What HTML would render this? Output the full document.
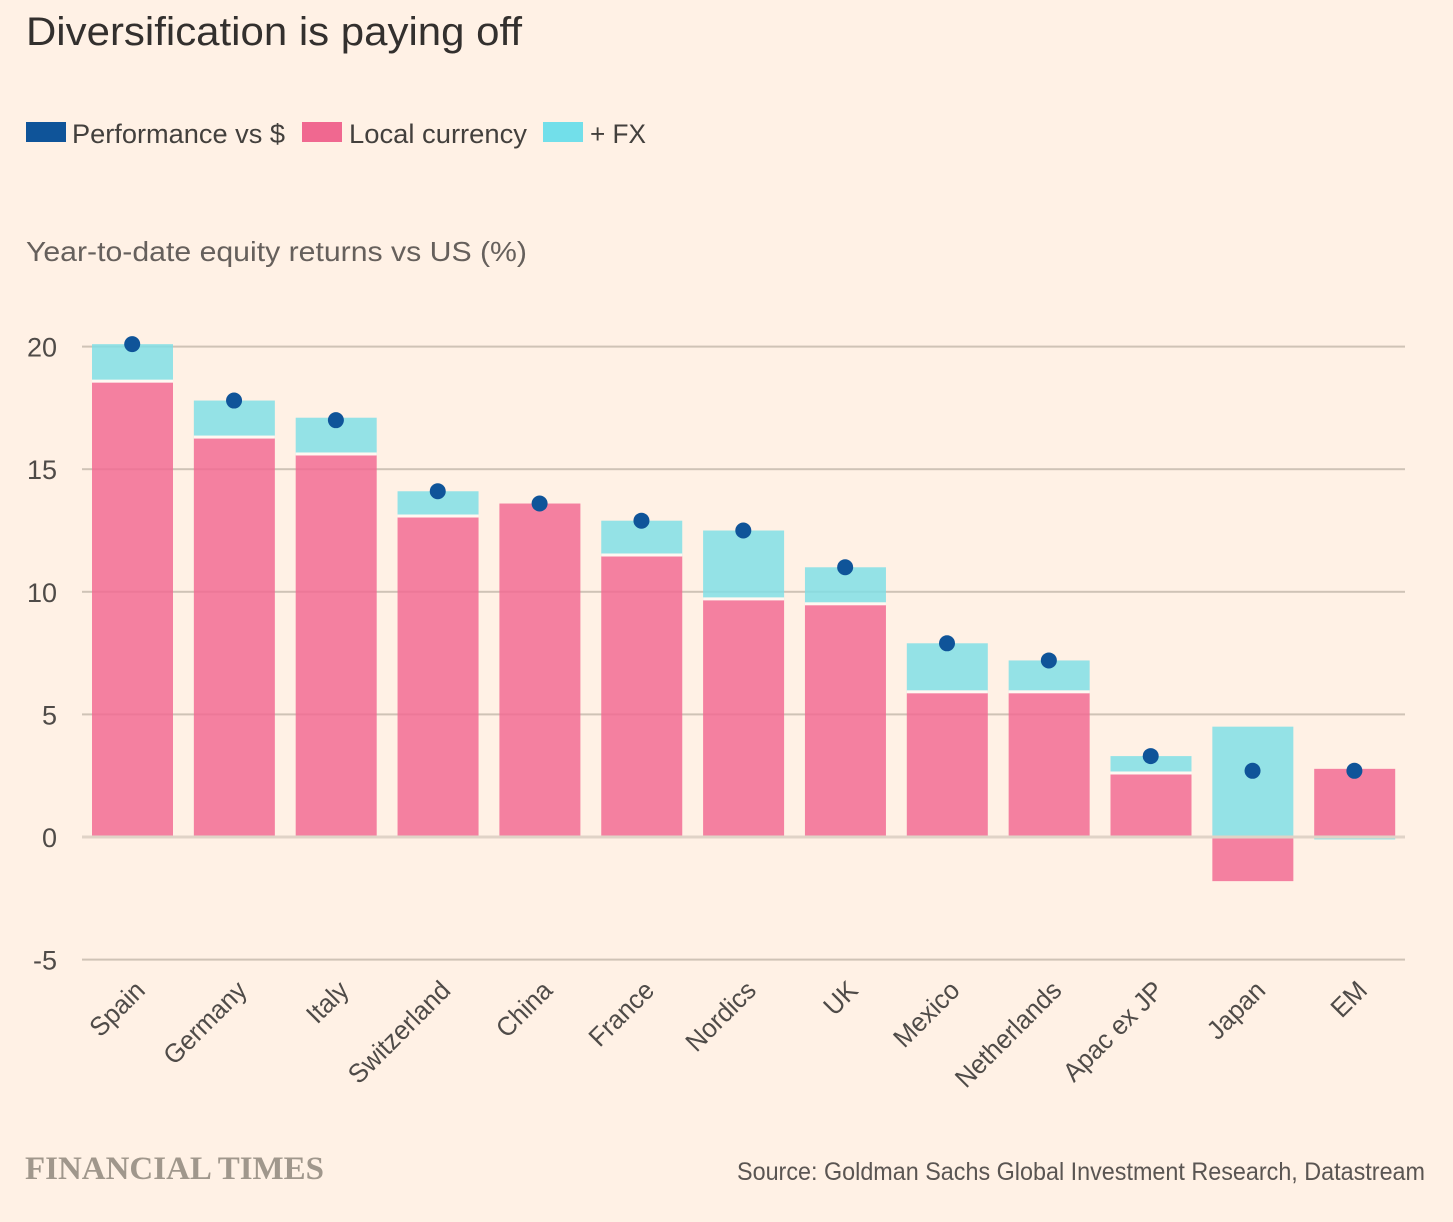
<!DOCTYPE html>
<html lang="en">
<head>
<meta charset="utf-8">
<title>Diversification is paying off</title>
<style>
html,body{margin:0;padding:0;background:#fff1e5;}
svg{display:block;font-family:"Liberation Sans",sans-serif;}
</style>
</head>
<body>
<svg id="chart" xmlns="http://www.w3.org/2000/svg" width="1453" height="1222" viewBox="0 0 1453 1222">
  <rect x="0" y="0" width="1453" height="1222" fill="#fff1e5"/>
  <text x="26" y="45" font-size="40" fill="#33302e" textLength="496" lengthAdjust="spacingAndGlyphs">Diversification is paying off</text>
  <g>
    <rect x="26" y="122" width="40" height="20" fill="#0f5499"/>
    <text x="72" y="143" font-size="27" fill="#43403d" textLength="213" lengthAdjust="spacingAndGlyphs">Performance vs $</text>
    <rect x="302" y="122" width="40" height="20" fill="#f06890"/>
    <text x="349" y="143" font-size="27" fill="#43403d" textLength="178" lengthAdjust="spacingAndGlyphs">Local currency</text>
    <rect x="543" y="122" width="40" height="20" fill="#72dfea"/>
    <text x="590" y="143" font-size="27" fill="#43403d" textLength="56" lengthAdjust="spacingAndGlyphs">+ FX</text>
  </g>
  <text x="26" y="261" font-size="28" fill="#66605c" textLength="501" lengthAdjust="spacingAndGlyphs">Year-to-date equity returns vs US (%)</text>
  <g id="grid"></g>
  <g id="ylabels"></g>
  <g id="bars"></g>
  <g id="dots"></g>
  <g id="xlabels"></g>
  <text x="25" y="1179" font-family="'Liberation Serif',serif" font-weight="700" font-size="33" fill="#a0978c" textLength="299" lengthAdjust="spacingAndGlyphs">FINANCIAL TIMES</text>
  <text x="1425" y="1180" text-anchor="end" font-size="25" fill="#5a5552" textLength="688" lengthAdjust="spacingAndGlyphs">Source: Goldman Sachs Global Investment Research, Datastream</text>
</svg>
<script>
const categories = ["Spain","Germany","Italy","Switzerland","China","France","Nordics","UK","Mexico","Netherlands","Apac ex JP","Japan","EM"];
const localCurrency = [18.55,16.27,15.58,13.05,13.6,11.46,9.67,9.47,5.88,5.88,2.57,-1.8,2.78];
const fxEffect = [1.55,1.53,1.52,1.05,0,1.44,2.83,1.53,2.02,1.32,0.73,4.5,-0.1];
const performance = [20.1,17.8,17.0,14.1,13.6,12.9,12.5,11.0,7.9,7.2,3.3,2.7,2.7];
const yTicks = [20,15,10,5,0,-5];

const NS = "http://www.w3.org/2000/svg";
function yScale(v){ return 837 - v * 24.52; }
function xScale(i){ return 132.5 + i * 101.85; }
const barWidth = 81;

function make(tag, attrs, parent){
  const el = document.createElementNS(NS, tag);
  for (const k in attrs) el.setAttribute(k, attrs[k]);
  parent.appendChild(el);
  return el;
}

const grid = document.getElementById("grid");
const ylabels = document.getElementById("ylabels");
yTicks.forEach(function(t){
  const line = make("rect", {x:82, y:yScale(t)-1, width:1323, height:2, fill:"#cfc3b6"}, grid);
  
  
  const lab = make("text", {x:57, y:yScale(t)+10, "text-anchor":"end", "font-size":27, fill:"#4f4b48"}, ylabels);
  
  
  lab.textContent = String(t);
});

function drawSegment(parent, i, from, to, fill){
  const y1 = yScale(Math.max(from, to));
  const y2 = yScale(Math.min(from, to));
  return make("rect", {x:xScale(i)-barWidth/2, y:y1, width:barWidth, height:y2-y1, fill:fill, "fill-opacity":0.84}, parent);
}

const bars = document.getElementById("bars");
categories.forEach(function(c, i){
  const l = localCurrency[i];
  const f = fxEffect[i];
  const localRect = drawSegment(bars, i, 0, l, "#f26a92");
  
  
  if (f !== 0) {
    const base = (l > 0 && f > 0) ? l : 0;
    const fxRect = drawSegment(bars, i, base, base + f, "#7fdfe6");
    
    
    if (f > 0 && base > 0) {
      const sep = make("rect", {x:xScale(i)-barWidth/2, y:yScale(base)-2.5, width:barWidth, height:3, fill:"#fff8f2"}, bars);
      
      
    }
  }
});

const zeroOverlay = make("rect", {x:82, y:yScale(0)-1.5, width:1323, height:3, fill:"#e0d3c7"}, bars);



const dots = document.getElementById("dots");
performance.forEach(function(v, i){
  const d = make("circle", {cx:xScale(i)-0.3, cy:yScale(v), r:8, fill:"#0f5499"}, dots);
  
  
});

const xlabels = document.getElementById("xlabels");
categories.forEach(function(c, i){
  const px = xScale(i) + 14;
  const t = make("text", {transform:"translate("+px+",992) rotate(-45) scale(0.98,1.02)", "text-anchor":"end", "font-size":26, fill:"#4f4b48"}, xlabels);
  
  
  t.textContent = c;
});
</script>
</body>
</html>
